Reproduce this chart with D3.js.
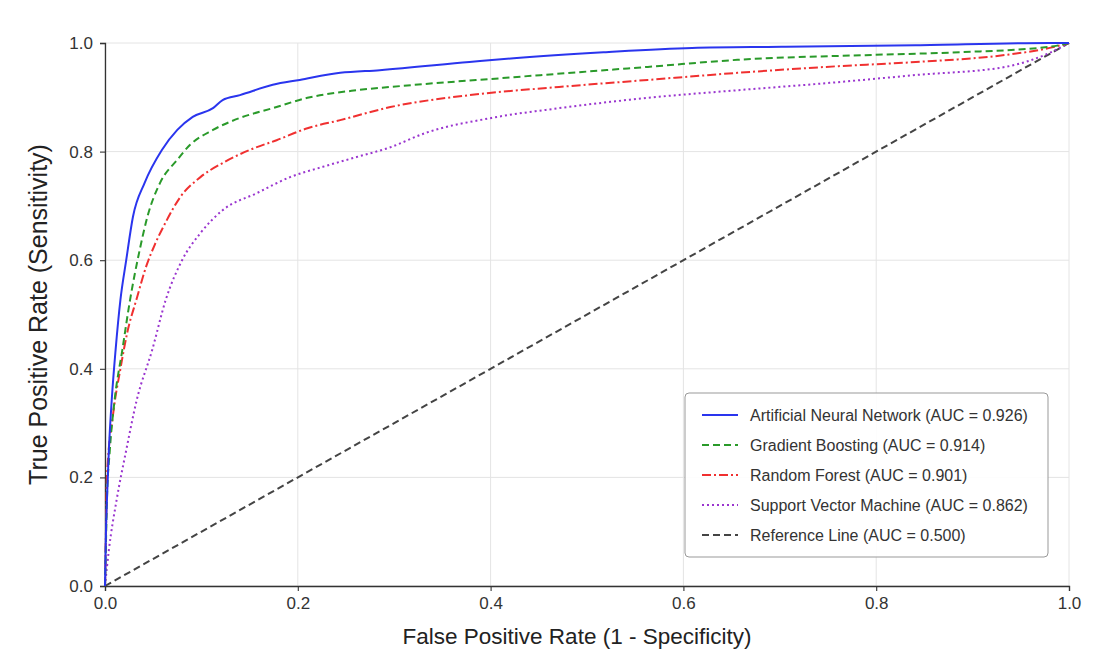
<!DOCTYPE html>
<html>
<head>
  <meta charset="utf-8">
  <title>ROC Curves</title>
  <script src="https://d3js.org/d3.v7.min.js"></script>
  <style>
    body { margin: 0; background: #fff; }
    text { font-family: "Liberation Sans", Arial, sans-serif; }
  </style>
</head>
<body>
<script>
  // ---- data ----
  var annFpr = [0, 0.001, 0.002, 0.004, 0.007, 0.011, 0.016, 0.022, 0.029, 0.041, 0.059, 0.075, 0.091, 0.112, 0.122, 0.14, 0.174, 0.202, 0.244, 0.285, 0.378, 0.424, 0.517, 0.609, 0.702, 0.841, 0.98, 1];
  var annTpr = [0, 0.1, 0.158, 0.25, 0.343, 0.435, 0.527, 0.6, 0.68, 0.742, 0.803, 0.84, 0.864, 0.88, 0.895, 0.904, 0.923, 0.932, 0.945, 0.95, 0.965, 0.972, 0.983, 0.991, 0.993, 0.996, 1.0, 1.0];

  var gbFpr = [0, 0.001, 0.002, 0.005, 0.01, 0.018, 0.026, 0.036, 0.044, 0.057, 0.075, 0.088, 0.112, 0.14, 0.174, 0.21, 0.261, 0.296, 0.424, 0.563, 0.656, 0.795, 0.887, 0.98, 1];
  var gbTpr = [0, 0.08, 0.158, 0.25, 0.343, 0.435, 0.527, 0.619, 0.68, 0.742, 0.785, 0.812, 0.84, 0.862, 0.88, 0.899, 0.913, 0.919, 0.937, 0.956, 0.969, 0.978, 0.983, 0.993, 1];

  var rfFpr = [0, 0.001, 0.002, 0.008, 0.016, 0.023, 0.033, 0.043, 0.052, 0.063, 0.078, 0.099, 0.122, 0.15, 0.178, 0.21, 0.244, 0.296, 0.378, 0.471, 0.563, 0.656, 0.748, 0.841, 0.934, 0.98, 1];
  var rfTpr = [0, 0.1, 0.2, 0.311, 0.4, 0.466, 0.53, 0.59, 0.63, 0.67, 0.716, 0.753, 0.779, 0.803, 0.821, 0.843, 0.858, 0.882, 0.904, 0.919, 0.932, 0.945, 0.956, 0.965, 0.978, 0.991, 1];

  var svmFpr = [0, 0.004, 0.012, 0.022, 0.033, 0.049, 0.063, 0.08, 0.099, 0.122, 0.158, 0.192, 0.226, 0.261, 0.296, 0.332, 0.401, 0.471, 0.563, 0.656, 0.748, 0.841, 0.934, 0.98, 1];
  var svmTpr = [0, 0.066, 0.158, 0.25, 0.343, 0.435, 0.527, 0.6, 0.65, 0.692, 0.724, 0.753, 0.772, 0.79, 0.808, 0.834, 0.862, 0.88, 0.899, 0.913, 0.926, 0.941, 0.956, 0.982, 1];

  var refFpr = [0, 1];
  var refTpr = [0, 1];

  var seriesNames = ["Artificial Neural Network", "Gradient Boosting", "Random Forest", "Support Vector Machine", "Reference Line"];
  var seriesAuc = ["0.926", "0.914", "0.901", "0.862", "0.500"];
  var tickValues = [0, 0.2, 0.4, 0.6, 0.8, 1.0];

  // ---- layout ----
  var W = 1097, H = 659;
  var plotLeft = 105, plotRight = 1069, plotTop = 43, plotBottom = 586;

  var series = [
    { fpr: annFpr, tpr: annTpr, color: "#2a35ee", dash: null, width: 2 },
    { fpr: gbFpr, tpr: gbTpr, color: "#2a9a2a", dash: "7,4", width: 2 },
    { fpr: rfFpr, tpr: rfTpr, color: "#f03030", dash: "9,3,2,3", width: 2 },
    { fpr: svmFpr, tpr: svmTpr, color: "#9a35cf", dash: "2,3", width: 2 },
    { fpr: refFpr, tpr: refTpr, color: "#444444", dash: "7,4", width: 2 }
  ];

  var svg = d3.select("body").append("svg")
    .attr("width", W)
    .attr("height", H);

  var x = d3.scaleLinear().domain([0, 1]).range([plotLeft, plotRight]);
  var y = d3.scaleLinear().domain([0, 1]).range([plotBottom, plotTop]);

  // grid
  svg.append("g").selectAll("line")
    .data(tickValues).enter().append("line")
      .attr("x1", d => x(d)).attr("x2", d => x(d))
      .attr("y1", plotTop).attr("y2", plotBottom)
      .attr("stroke", "#e4e4e4").attr("stroke-width", 1);
  svg.append("g").selectAll("line")
    .data(tickValues).enter().append("line")
      .attr("x1", plotLeft).attr("x2", plotRight)
      .attr("y1", d => y(d)).attr("y2", d => y(d))
      .attr("stroke", "#e4e4e4").attr("stroke-width", 1);

  // axes
  var xAxis = svg.append("g")
    .attr("transform", "translate(0," + plotBottom + ")")
    .call(d3.axisBottom(x).tickValues(tickValues).tickFormat(d3.format(".1f")).tickSizeOuter(0).tickSize(5).tickPadding(6));
  var yAxis = svg.append("g")
    .attr("transform", "translate(" + plotLeft + ",0)")
    .call(d3.axisLeft(y).tickValues(tickValues).tickFormat(d3.format(".1f")).tickSizeOuter(0).tickSize(5).tickPadding(7));

  [xAxis, yAxis].forEach(function (a) {
    a.select(".domain").attr("stroke", "#333").attr("stroke-width", 1.3);
    a.selectAll(".tick line").attr("stroke", "#333").attr("stroke-width", 1.1);
    a.selectAll(".tick text")
      .attr("fill", "#333")
      .style("font-size", "17px")
      .style("font-family", "'Liberation Sans', Arial, sans-serif");
  });

  // curves
  var line = d3.line()
    .x(d => x(d[0]))
    .y(d => y(d[1]))
    .curve(d3.curveMonotoneX);

  series.slice().reverse().forEach(function (s) {
    var pts = s.fpr.map((f, i) => [f, s.tpr[i]]);
    svg.append("path")
      .datum(pts)
      .attr("d", line)
      .attr("fill", "none")
      .attr("stroke", s.color)
      .attr("stroke-width", s.width)
      .attr("stroke-dasharray", s.dash);
  });

  // axis titles
  svg.append("text")
    .attr("x", (plotLeft + plotRight) / 2 - 10)
    .attr("y", 644)
    .attr("text-anchor", "middle")
    .style("font-size", "22.5px")
    .attr("fill", "#222")
    .text("False Positive Rate (1 - Specificity)");

  svg.append("text")
    .attr("transform", "translate(47," + ((plotTop + plotBottom) / 2) + ") rotate(-90)")
    .attr("text-anchor", "middle")
    .style("font-size", "25px")
    .attr("fill", "#222")
    .text("True Positive Rate (Sensitivity)");

  // legend
  var lg = svg.append("g");
  lg.append("rect")
    .attr("x", 685).attr("y", 393)
    .attr("width", 363).attr("height", 164)
    .attr("rx", 4)
    .attr("fill", "#fff").attr("fill-opacity", 0.9)
    .attr("stroke", "#999").attr("stroke-width", 1);

  series.forEach(function (s, i) {
    var ly = 415 + i * 30;
    lg.append("line")
      .attr("x1", 702).attr("x2", 738)
      .attr("y1", ly).attr("y2", ly)
      .attr("stroke", s.color)
      .attr("stroke-width", s.width)
      .attr("stroke-dasharray", s.dash);
    lg.append("text")
      .attr("x", 750).attr("y", ly + 5.5)
      .style("font-size", "16px")
      .attr("fill", "#333")
      .text(seriesNames[i] + " (AUC = " + seriesAuc[i] + ")");
  });
</script>
</body>
</html>
